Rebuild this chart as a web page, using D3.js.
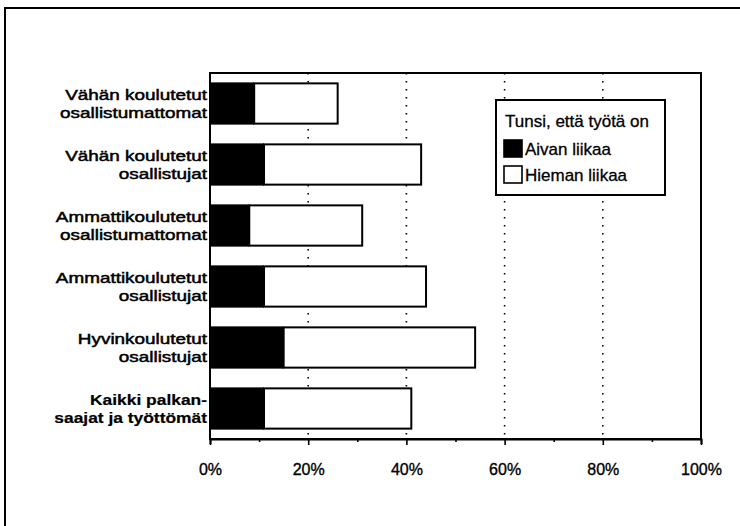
<!DOCTYPE html>
<html>
<head>
<meta charset="utf-8">
<script src="https://cdn.jsdelivr.net/npm/d3@7"></script>
<style>
  html, body { margin: 0; padding: 0; background: #fff; }
  svg { display: block; }
  text { font-family: "Liberation Sans", Arial, Helvetica, sans-serif; fill: #000; }
</style>
</head>
<body>
<svg id="chart" width="740" height="526"></svg>
<script>
// Ryhmät (kaksi riviä kullekin)
const categories = [
  ["Vähän koulutetut", "osallistumattomat"],
  ["Vähän koulutetut", "osallistujat"],
  ["Ammattikoulutetut", "osallistumattomat"],
  ["Ammattikoulutetut", "osallistujat"],
  ["Hyvinkoulutetut", "osallistujat"],
  ["Kaikki palkan-", "saajat ja työttömät"]
];
// Osuudet prosentteina
const aivanLiikaa  = [9, 11, 8, 11, 15, 11];
const hiemanLiikaa = [17, 32, 23, 33, 39, 30];
const xTicks = [0, 20, 40, 60, 80, 100];
const xTickLabels = ["0%", "20%", "40%", "60%", "80%", "100%"];
const legendTitle = "Tunsi, että työtä on";
const seriesNames = ["Aivan liikaa", "Hieman liikaa"];

const svg = d3.select("#chart");

// outer frame
svg.append("rect")
  .attr("x", 5).attr("y", 8).attr("width", 800).attr("height", 600)
  .attr("fill", "none").attr("stroke", "#000").attr("stroke-width", 2);

const plot = { left: 210, right: 701, top: 73, bottom: 439 };

const x = d3.scaleLinear().domain([0, 100]).range([plot.left, plot.right]);
const y = d3.scaleBand()
  .domain(d3.range(categories.length))
  .range([plot.top, plot.bottom])
  .paddingInner(0.34)
  .paddingOuter(0.17);

// dotted grid lines
svg.append("g")
  .selectAll("line")
  .data(xTicks.filter(t => t > 0 && t < 100))
  .join("line")
  .attr("x1", d => x(d)).attr("x2", d => x(d))
  .attr("y1", plot.top).attr("y2", plot.bottom)
  .attr("stroke", "#000").attr("stroke-width", 1.6)
  .attr("stroke-dasharray", "1.6,6.4");

// bars
const rows = categories.map((c, i) => ({ i, a: aivanLiikaa[i], h: hiemanLiikaa[i] }));
const bars = svg.append("g");
bars.selectAll("rect.hieman")
  .data(rows)
  .join("rect")
  .attr("class", "hieman")
  .attr("x", d => x(d.a))
  .attr("y", d => y(d.i))
  .attr("width", d => x(d.a + d.h) - x(d.a))
  .attr("height", y.bandwidth())
  .attr("fill", "#fff").attr("stroke", "#000").attr("stroke-width", 2);
bars.selectAll("rect.aivan")
  .data(rows)
  .join("rect")
  .attr("class", "aivan")
  .attr("x", x(0))
  .attr("y", d => y(d.i) - 1)
  .attr("width", d => x(d.a) - x(0))
  .attr("height", y.bandwidth() + 2)
  .attr("fill", "#000");

// plot frame
svg.append("rect")
  .attr("x", plot.left).attr("y", plot.top)
  .attr("width", plot.right - plot.left).attr("height", plot.bottom - plot.top)
  .attr("fill", "none").attr("stroke", "#000").attr("stroke-width", 2);

// x axis
const xAxis = d3.axisBottom(x)
  .tickValues(d3.range(0, 101, 10))
  .tickSize(5)
  .tickFormat(d => {
    const k = xTicks.indexOf(d);
    return k >= 0 ? xTickLabels[k] : "";
  });
const gx = svg.append("g")
  .attr("transform", `translate(0,${plot.bottom})`)
  .call(xAxis);
gx.select(".domain").attr("stroke-width", 2);
gx.selectAll(".tick line")
  .attr("stroke-width", 1.6)
  .attr("y2", d => (d % 20 === 0 ? 6 : 3));
gx.selectAll(".tick text")
  .attr("y", 0).attr("dy", null)
  .attr("transform", "translate(0,36)")
  .attr("stroke", "#000").attr("stroke-width", 0.35)
  .style("font-size", "16px")
  .style("font-family", "'Liberation Sans', Arial, sans-serif");

// category labels, widened face with tight leading
const labels = svg.append("g");
rows.forEach(d => {
  const cy = y(d.i) + y.bandwidth() / 2;
  const last = d.i === categories.length - 1;
  const ax = plot.left - 3;
  const t = labels.append("text")
    .attr("text-anchor", "end")
    .attr("transform", `translate(${ax},0) scale(${last ? 1.16 : 1.26},1) translate(${-ax},0)`)
    .style("font-size", "15px")
    .style("font-weight", last ? "bold" : "normal")
    .attr("stroke", "#000")
    .attr("stroke-width", last ? 0.2 : 0.5);
  t.append("tspan").attr("x", ax).attr("y", cy - 3.2).text(categories[d.i][0]);
  t.append("tspan").attr("x", ax).attr("y", cy + 14.2).text(categories[d.i][1]);
});

// legend
const lg = svg.append("g").attr("transform", "translate(496,100)");
lg.append("rect")
  .attr("width", 169).attr("height", 95)
  .attr("fill", "#fff").attr("stroke", "#000").attr("stroke-width", 2);
lg.append("text")
  .attr("x", 9).attr("y", 27)
  .attr("stroke", "#000").attr("stroke-width", 0.3)
  .style("font-size", "17px")
  .text(legendTitle);
seriesNames.forEach((name, k) => {
  const gy = 39 + k * 26;
  lg.append("rect")
    .attr("x", 8).attr("y", gy + 1)
    .attr("width", 18).attr("height", 17)
    .attr("fill", k === 0 ? "#000" : "#fff")
    .attr("stroke", "#000").attr("stroke-width", 1.6);
  lg.append("text")
    .attr("x", 29).attr("y", gy + 16)
    .attr("stroke", "#000").attr("stroke-width", 0.3)
    .style("font-size", "17px")
    .text(name);
});
</script>
</body>
</html>
